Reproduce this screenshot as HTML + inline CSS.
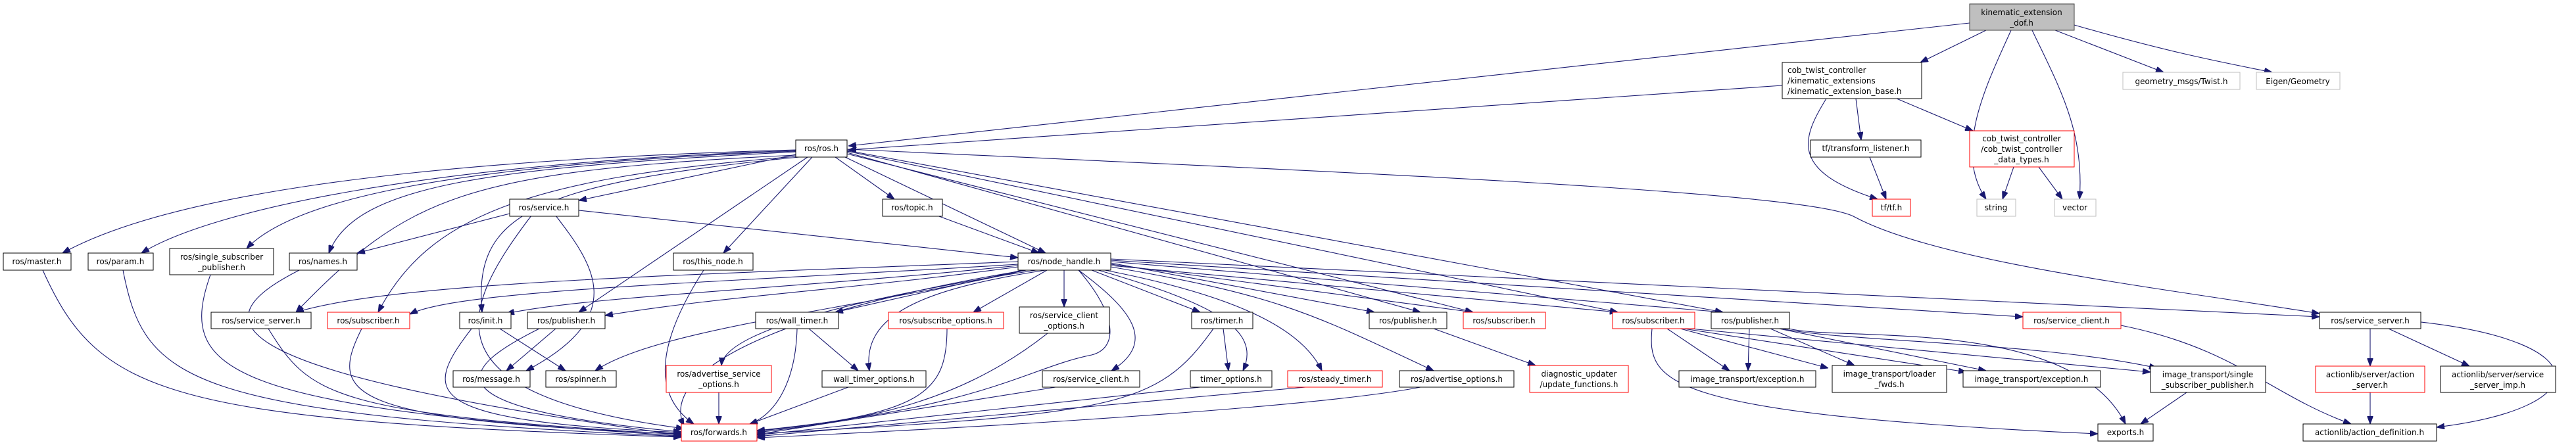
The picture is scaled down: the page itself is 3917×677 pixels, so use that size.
<!DOCTYPE html>
<html><head><meta charset="utf-8"><style>
html,body{margin:0;padding:0;background:#fff;}
svg{display:block;}
text{font-family:"DejaVu Sans","Liberation Sans",sans-serif;font-size:12px;fill:#000;}
.n{fill:#fff;stroke:#000;stroke-width:1;}
.r{fill:#fff;stroke:#ff0000;stroke-width:1;}
.g{fill:#fff;stroke:#bfbfbf;stroke-width:1;}
.e{fill:none;stroke:#191970;stroke-width:1.1;}
</style></head><body>
<svg width="3917" height="677" viewBox="0 0 3917 677" xmlns="http://www.w3.org/2000/svg">
<defs><marker id="a" markerWidth="12" markerHeight="9" refX="12" refY="4.5" orient="auto" markerUnits="userSpaceOnUse"><path d="M0,0 L12,4.5 L0,9 z" fill="#191970" stroke="#191970"/></marker></defs>
<g class="e" marker-end="url(#a)">
<path d="M2995,35 L1290,222"/>
<path d="M3020,46 L2920,95"/>
<path d="M3125,46 L3290,110"/>
<path d="M3154,38 C3300,80 3380,95 3455,110"/>
<path d="M3058,46 C3020,130 2970,230 3020,303"/>
<path d="M3090,46 C3130,130 3170,200 3162,303"/>
<path d="M2710,130 L1290,228"/>
<path d="M2822,150 L2830,213"/>
<path d="M2777,150 C2740,210 2720,260 2855,303"/>
<path d="M2884,150 L3000,199"/>
<path d="M2843,239 L2868,303"/>
<path d="M3062,254 L3045,303"/>
<path d="M3100,254 L3136,303"/>
<path d="M1210,228 C600,245 250,300 95,385"/>
<path d="M1210,229 C650,248 320,320 215,385"/>
<path d="M1210,230 C700,250 450,300 375,378"/>
<path d="M1210,231 C750,255 540,280 500,385"/>
<path d="M1210,235 L880,305"/>
<path d="M1210,236 C700,260 620,300 450,475"/>
<path d="M1212,238 C800,270 650,330 575,475"/>
<path d="M1215,239 C800,280 720,330 733,475"/>
<path d="M1228,239 L880,475"/>
<path d="M1235,239 L1100,385"/>
<path d="M1270,239 L1360,303"/>
<path d="M1285,239 L1590,385"/>
<path d="M1288,232 L2160,475"/>
<path d="M1288,234 L2240,475"/>
<path d="M1288,230 L2460,475"/>
<path d="M1288,229 L2620,475"/>
<path d="M1288,227 C2000,260 2750,290 2820,330 C2950,400 3300,440 3527,477"/>
<path d="M775,325 L543,385"/>
<path d="M880,320 L1548,392"/>
<path d="M808,328 C700,470 640,600 1040,652"/>
<path d="M845,328 C900,400 960,480 800,564"/>
<path d="M1425,328 L1580,385"/>
<path d="M1548,398 C1000,420 600,430 450,475"/>
<path d="M1548,402 C1100,430 700,440 623,478"/>
<path d="M1548,404 C1200,440 900,450 770,477"/>
<path d="M1548,406 C1300,440 1100,450 920,480"/>
<path d="M1560,411 C1300,470 1000,500 905,564"/>
<path d="M1560,411 C1200,470 1000,560 1040,648"/>
<path d="M1575,411 C1200,470 1100,520 1097,556"/>
<path d="M1555,411 L1270,475"/>
<path d="M1590,411 C1400,440 1310,480 1322,564"/>
<path d="M1592,411 L1480,475"/>
<path d="M1618,411 L1618,467"/>
<path d="M1640,411 C1720,470 1760,520 1690,564"/>
<path d="M1640,411 C1700,480 1700,530 1660,540 C1560,560 1500,620 1151,655"/>
<path d="M1660,411 L1825,475"/>
<path d="M1670,411 C1840,460 1920,500 1890,564"/>
<path d="M1680,411 C1880,450 1980,500 2010,564"/>
<path d="M1689,406 C1950,450 2000,480 2180,564"/>
<path d="M1689,400 L2090,475"/>
<path d="M1689,402 L2240,475"/>
<path d="M1689,404 L2460,475"/>
<path d="M1689,398 L2620,475"/>
<path d="M1689,396 L3076,482"/>
<path d="M1689,394 L3527,482"/>
<path d="M1212,500 C1210,580 1180,630 1140,645"/>
<path d="M1230,500 L1305,564"/>
<path d="M1440,500 C1440,600 1400,630 1151,656"/>
<path d="M1593,507 C1450,620 1300,640 1151,658"/>
<path d="M1845,500 C1760,620 1700,630 1151,660"/>
<path d="M1860,500 L1868,564"/>
<path d="M1605,589 L1151,661"/>
<path d="M1825,589 L1151,662"/>
<path d="M1985,589 L1151,664"/>
<path d="M2160,589 C2000,620 1500,650 1151,666"/>
<path d="M1093,597 L1093,645"/>
<path d="M1290,589 L1140,645"/>
<path d="M65,411 C150,600 250,640 1036,665"/>
<path d="M187,411 C220,580 280,630 1036,664"/>
<path d="M320,418 C270,560 330,620 1036,663"/>
<path d="M455,411 C320,480 280,560 1036,662"/>
<path d="M408,500 C470,600 500,630 1036,661"/>
<path d="M550,500 C500,600 520,640 1036,660"/>
<path d="M717,500 C640,600 640,640 1036,658"/>
<path d="M820,500 C700,560 640,620 1036,657"/>
<path d="M1070,411 C1000,520 990,600 1055,645"/>
<path d="M760,500 L860,564"/>
<path d="M845,500 L770,564"/>
<path d="M2180,500 L2335,556"/>
<path d="M2535,500 L2630,564"/>
<path d="M2512,500 C2505,580 2520,630 3190,660"/>
<path d="M2555,500 L2780,560"/>
<path d="M2560,500 L2990,566"/>
<path d="M2570,500 L3270,566"/>
<path d="M2660,500 L2658,564"/>
<path d="M2692,500 L2820,556"/>
<path d="M2705,500 L3020,564"/>
<path d="M2710,500 C2800,520 3100,520 3280,560"/>
<path d="M2720,500 C2800,520 3150,480 3232,645"/>
<path d="M3325,597 L3255,645"/>
<path d="M3225,495 C3400,530 3450,600 3575,645"/>
<path d="M3604,500 L3604,557"/>
<path d="M3632,500 L3755,557"/>
<path d="M3681,490 C3950,520 3950,620 3705,650"/>
<path d="M3604,597 L3604,645"/>
</g>
<g>
<rect x="2995" y="6" width="159" height="40" fill="#bfbfbf" stroke="#404040"/>
<text x="3074" y="23" text-anchor="middle">kinematic_extension</text><text x="3074" y="39" text-anchor="middle">_dof.h</text>
<rect class="n" x="2710" y="95" width="212" height="55"/>
<text x="2718" y="111">cob_twist_controller</text><text x="2718" y="127">/kinematic_extensions</text><text x="2718" y="143">/kinematic_extension_base.h</text>
<rect class="g" x="3228" y="110" width="178" height="26"/><text x="3317" y="128" text-anchor="middle">geometry_msgs/Twist.h</text>
<rect class="g" x="3431" y="110" width="127" height="26"/><text x="3494" y="128" text-anchor="middle">Eigen/Geometry</text>
<rect class="n" x="1210" y="213" width="78" height="26"/><text x="1249" y="230" text-anchor="middle">ros/ros.h</text>
<rect class="n" x="2753" y="213" width="168" height="26"/><text x="2837" y="230" text-anchor="middle">tf/transform_listener.h</text>
<rect class="r" x="2995" y="199" width="159" height="55"/>
<text x="3074" y="215" text-anchor="middle">cob_twist_controller</text><text x="3074" y="231" text-anchor="middle">/cob_twist_controller</text><text x="3074" y="247" text-anchor="middle">_data_types.h</text>
<rect class="n" x="775" y="303" width="105" height="26"/><text x="827" y="320" text-anchor="middle">ros/service.h</text>
<rect class="n" x="1342" y="303" width="91" height="26"/><text x="1387" y="320" text-anchor="middle">ros/topic.h</text>
<rect class="r" x="2847" y="303" width="58" height="26"/><text x="2876" y="320" text-anchor="middle">tf/tf.h</text>
<rect class="g" x="3006" y="303" width="59" height="26"/><text x="3035" y="320" text-anchor="middle">string</text>
<rect class="g" x="3124" y="303" width="63" height="26"/><text x="3155" y="320" text-anchor="middle">vector</text>

<rect class="n" x="5" y="385" width="103" height="26"/><text x="56" y="402" text-anchor="middle">ros/master.h</text>
<rect class="n" x="134" y="385" width="99" height="26"/><text x="183" y="402" text-anchor="middle">ros/param.h</text>
<rect class="n" x="258" y="378" width="158" height="40"/><text x="337" y="395" text-anchor="middle">ros/single_subscriber</text><text x="337" y="411" text-anchor="middle">_publisher.h</text>
<rect class="n" x="440" y="385" width="103" height="26"/><text x="491" y="402" text-anchor="middle">ros/names.h</text>
<rect class="n" x="1024" y="385" width="121" height="26"/><text x="1084" y="402" text-anchor="middle">ros/this_node.h</text>
<rect class="n" x="1548" y="385" width="141" height="26"/><text x="1618" y="402" text-anchor="middle">ros/node_handle.h</text>

<rect class="n" x="321" y="475" width="152" height="25"/><text x="397" y="492" text-anchor="middle">ros/service_server.h</text>
<rect class="r" x="498" y="475" width="125" height="25"/><text x="560" y="492" text-anchor="middle">ros/subscriber.h</text>
<rect class="n" x="699" y="475" width="78" height="25"/><text x="738" y="492" text-anchor="middle">ros/init.h</text>
<rect class="n" x="802" y="475" width="118" height="25"/><text x="861" y="492" text-anchor="middle">ros/publisher.h</text>
<rect class="n" x="1149" y="475" width="126" height="25"/><text x="1212" y="492" text-anchor="middle">ros/wall_timer.h</text>
<rect class="r" x="1351" y="475" width="175" height="25"/><text x="1438" y="492" text-anchor="middle">ros/subscribe_options.h</text>
<rect class="n" x="1550" y="467" width="137" height="40"/><text x="1618" y="484" text-anchor="middle">ros/service_client</text><text x="1618" y="500" text-anchor="middle">_options.h</text>
<rect class="n" x="1812" y="475" width="93" height="25"/><text x="1858" y="492" text-anchor="middle">ros/timer.h</text>
<rect class="n" x="2082" y="475" width="118" height="25"/><text x="2141" y="492" text-anchor="middle">ros/publisher.h</text>
<rect class="r" x="2225" y="475" width="125" height="25"/><text x="2287" y="492" text-anchor="middle">ros/subscriber.h</text>
<rect class="r" x="2452" y="475" width="125" height="25"/><text x="2514" y="492" text-anchor="middle">ros/subscriber.h</text>
<rect class="n" x="2602" y="475" width="119" height="25"/><text x="2661" y="492" text-anchor="middle">ros/publisher.h</text>
<rect class="r" x="3076" y="475" width="149" height="25"/><text x="3150" y="492" text-anchor="middle">ros/service_client.h</text>
<rect class="n" x="3527" y="475" width="154" height="25"/><text x="3604" y="492" text-anchor="middle">ros/service_server.h</text>

<rect class="n" x="689" y="564" width="117" height="25"/><text x="747" y="581" text-anchor="middle">ros/message.h</text>
<rect class="n" x="830" y="564" width="107" height="25"/><text x="883" y="581" text-anchor="middle">ros/spinner.h</text>
<rect class="r" x="1013" y="556" width="160" height="41"/><text x="1093" y="573" text-anchor="middle">ros/advertise_service</text><text x="1093" y="589" text-anchor="middle">_options.h</text>
<rect class="n" x="1250" y="564" width="158" height="25"/><text x="1329" y="581" text-anchor="middle">wall_timer_options.h</text>
<rect class="n" x="1585" y="564" width="148" height="25"/><text x="1659" y="581" text-anchor="middle">ros/service_client.h</text>
<rect class="n" x="1810" y="564" width="124" height="25"/><text x="1872" y="581" text-anchor="middle">timer_options.h</text>
<rect class="r" x="1958" y="564" width="144" height="25"/><text x="2030" y="581" text-anchor="middle">ros/steady_timer.h</text>
<rect class="n" x="2128" y="564" width="174" height="25"/><text x="2215" y="581" text-anchor="middle">ros/advertise_options.h</text>
<rect class="r" x="2326" y="556" width="150" height="41"/><text x="2401" y="573" text-anchor="middle">diagnostic_updater</text><text x="2401" y="589" text-anchor="middle">/update_functions.h</text>
<rect class="n" x="2553" y="564" width="208" height="25"/><text x="2657" y="581" text-anchor="middle">image_transport/exception.h</text>
<rect class="n" x="2786" y="556" width="174" height="41"/><text x="2873" y="573" text-anchor="middle">image_transport/loader</text><text x="2873" y="589" text-anchor="middle">_fwds.h</text>
<rect class="n" x="2985" y="564" width="209" height="25"/><text x="3089" y="581" text-anchor="middle">image_transport/exception.h</text>
<rect class="n" x="3270" y="557" width="175" height="40"/><text x="3357" y="574" text-anchor="middle">image_transport/single</text><text x="3357" y="590" text-anchor="middle">_subscriber_publisher.h</text>
<rect class="r" x="3521" y="557" width="166" height="40"/><text x="3604" y="574" text-anchor="middle">actionlib/server/action</text><text x="3604" y="590" text-anchor="middle">_server.h</text>
<rect class="n" x="3711" y="557" width="175" height="40"/><text x="3798" y="574" text-anchor="middle">actionlib/server/service</text><text x="3798" y="590" text-anchor="middle">_server_imp.h</text>

<rect class="r" x="1036" y="645" width="115" height="26"/><text x="1093" y="662" text-anchor="middle">ros/forwards.h</text>
<rect class="n" x="3190" y="645" width="84" height="26"/><text x="3232" y="662" text-anchor="middle">exports.h</text>
<rect class="n" x="3502" y="645" width="203" height="26"/><text x="3603" y="662" text-anchor="middle">actionlib/action_definition.h</text>
</g>
</svg>
</body></html>
